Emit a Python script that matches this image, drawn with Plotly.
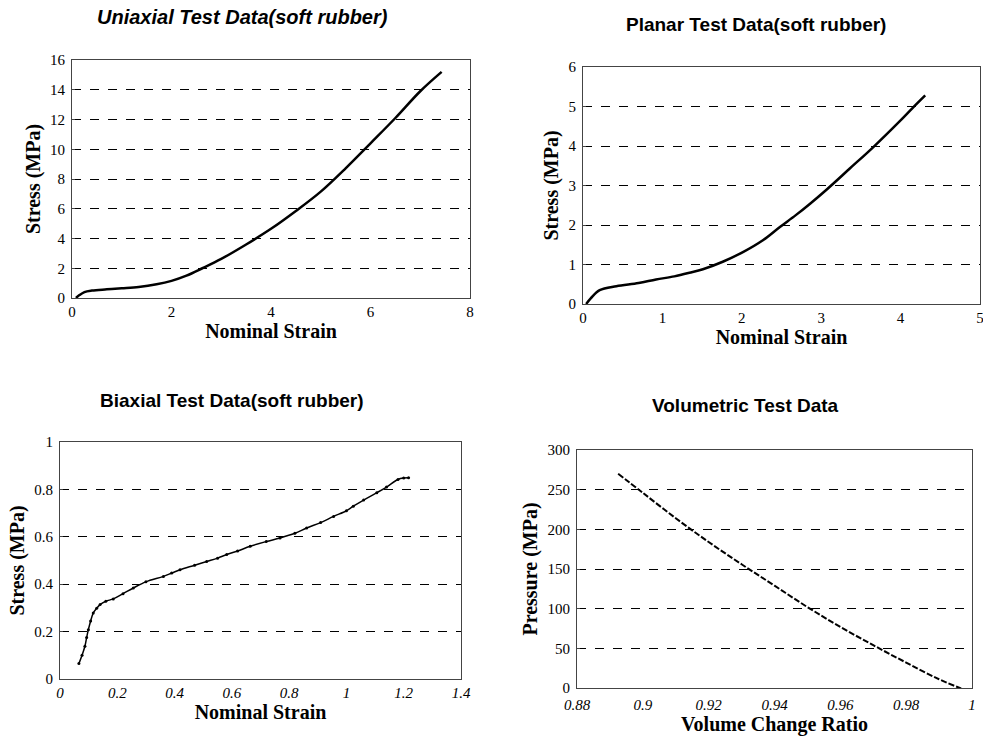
import plotly.graph_objects as go

# ---- data ----
uni_strain = [0.08, 0.15, 0.25, 0.4, 0.7, 1.0, 1.34, 1.7, 2.0, 2.3, 2.62, 3.0, 3.5, 4.0, 4.5, 5.0, 5.5, 6.0, 6.5, 7.0, 7.43]
uni_stress = [0.0, 0.2, 0.4, 0.5, 0.58, 0.65, 0.74, 0.92, 1.15, 1.5, 2.0, 2.63, 3.6, 4.65, 5.85, 7.15, 8.72, 10.4, 12.1, 13.9, 15.2]

pla_strain = [0.04, 0.1, 0.21, 0.42, 0.7, 0.92, 1.15, 1.34, 1.51, 1.76, 2.02, 2.27, 2.48, 2.68, 2.86, 3.07, 3.36, 3.66, 3.99, 4.15, 4.31]
pla_stress = [0.0, 0.15, 0.35, 0.45, 0.53, 0.62, 0.7, 0.79, 0.88, 1.07, 1.32, 1.62, 1.95, 2.25, 2.54, 2.9, 3.43, 3.98, 4.63, 4.96, 5.28]

bi_strain = [0.066, 0.077, 0.087, 0.093, 0.099, 0.107, 0.116, 0.128, 0.14, 0.16, 0.186, 0.22, 0.256, 0.3, 0.361, 0.39, 0.419, 0.47, 0.512, 0.55, 0.582, 0.62, 0.664, 0.72, 0.768, 0.82, 0.861, 0.91, 0.955, 1.0, 1.024, 1.06, 1.106, 1.14, 1.18, 1.2, 1.217]
bi_stress = [0.065, 0.1, 0.138, 0.175, 0.208, 0.245, 0.278, 0.298, 0.314, 0.328, 0.338, 0.36, 0.384, 0.41, 0.433, 0.447, 0.461, 0.48, 0.496, 0.51, 0.525, 0.54, 0.56, 0.58, 0.595, 0.615, 0.637, 0.66, 0.686, 0.71, 0.729, 0.755, 0.786, 0.81, 0.842, 0.848, 0.849]

vol_ratio = [0.8925, 0.9, 0.91, 0.92, 0.93, 0.94, 0.95, 0.96, 0.97, 0.98, 0.99, 0.9963, 0.999]
vol_pressure = [270, 246, 214, 184, 156, 129, 102, 77, 54, 32, 11, 0, -4]

titles = ["Uniaxial Test Data(soft rubber)", "Planar Test Data(soft rubber)",
          "Biaxial Test Data(soft rubber)", "Volumetric Test Data"]

W, H = 983, 741

def px_x(a, b):
    return [a / W, b / W]

def px_y(top, bottom):
    return [1 - bottom / H, 1 - top / H]

fig = go.Figure()

fig.add_trace(go.Scatter(x=uni_strain, y=uni_stress, mode="lines",
                         line=dict(color="black", width=2.5, shape="spline"),
                         xaxis="x", yaxis="y", showlegend=False, cliponaxis=False))
fig.add_trace(go.Scatter(x=pla_strain, y=pla_stress, mode="lines",
                         line=dict(color="black", width=2.5, shape="spline"),
                         xaxis="x2", yaxis="y2", showlegend=False, cliponaxis=False))
fig.add_trace(go.Scatter(x=bi_strain, y=bi_stress, mode="lines+markers",
                         line=dict(color="black", width=1.5, shape="spline"),
                         marker=dict(color="black", size=3),
                         xaxis="x3", yaxis="y3", showlegend=False))
fig.add_trace(go.Scatter(x=vol_ratio, y=vol_pressure, mode="lines",
                         line=dict(color="black", width=2, dash="6px,2px", shape="spline"),
                         xaxis="x4", yaxis="y4", showlegend=False, cliponaxis=False))

tickfont = dict(family="Liberation Serif", size=15, color="black")
titlefont = dict(family="Liberation Serif", size=20, color="black", weight="bold")

def xax(domain, anchor, rng, dtick, title, standoff=2, italic=False, tls=0):
    tf = dict(tickfont)
    if italic:
        tf["style"] = "italic"
    return dict(domain=domain, anchor=anchor, range=rng, dtick=dtick, automargin=False,
                showgrid=False, zeroline=False, showline=True, mirror=True,
                linecolor="#444", linewidth=1, ticks="", tickfont=tf,
                ticklabelstandoff=tls, ticklabeloverflow="allow",
                title=dict(text=title, font=titlefont, standoff=standoff))

def yax(domain, anchor, rng, dtick, title, standoff=4):
    return dict(domain=domain, anchor=anchor, range=rng, dtick=dtick, automargin=False,
                showgrid=True, gridcolor="black", gridwidth=1, griddash="dash",
                zeroline=False, showline=True, mirror=True,
                linecolor="#444", linewidth=1, ticks="inside", ticklen=3,
                tickcolor="#444", tickfont=tickfont, ticklabelstandoff=3,
                title=dict(text=title, font=titlefont, standoff=standoff))

fig.update_layout(
    width=W, height=H,
    margin=dict(l=0, r=0, t=0, b=0),
    paper_bgcolor="white", plot_bgcolor="white",
    xaxis=xax(px_x(72, 470), "y", [0, 8], 2, "Nominal Strain"),
    yaxis=yax(px_y(60, 298), "x", [0, 16], 2, "Stress (MPa)"),
    xaxis2=xax(px_x(583, 980), "y2", [0, 5], 1, "Nominal Strain"),
    yaxis2=yax(px_y(67, 304), "x2", [0, 6], 1, "Stress (MPa)"),
    xaxis3=xax(px_x(60, 461), "y3", [0, 1.4], 0.2, "Nominal Strain", italic=True),
    yaxis3=yax(px_y(442, 679), "x3", [0, 1], 0.2, "Stress (MPa)"),
    xaxis4=xax(px_x(577, 972), "y4", [0.88, 1.0], 0.02, "Volume Change Ratio",
               standoff=0, italic=True, tls=3),
    yaxis4=yax(px_y(450, 688), "x4", [0, 300], 50, "Pressure (MPa)"),
)

title_pos = [(242, 17, True, 20), (756, 25, False, 19), (232, 400, False, 19), (745, 405, False, 19)]
for t, (cx, cy, it, fs) in zip(titles, title_pos):
    fig.add_annotation(text=t, x=cx / W, y=1 - cy / H, xref="paper", yref="paper",
                       showarrow=False, xanchor="center", yanchor="middle",
                       font=dict(family="Liberation Sans", size=fs, color="black",
                                 weight="bold", style="italic" if it else "normal"))

fig.write_html("out.html", config={"displayModeBar": False},
               post_script="document.body.style.margin='0';document.body.style.overflow='hidden';")
